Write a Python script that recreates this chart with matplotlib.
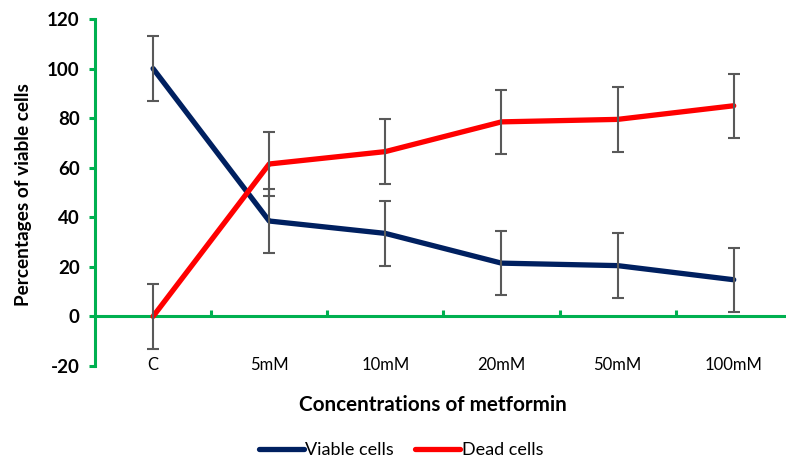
import matplotlib
matplotlib.use("Agg")
import matplotlib.pyplot as plt
import numpy as np

categories = ["C", "5mM", "10mM", "20mM", "50mM", "100mM"]
viable = [100, 38.5, 33.5, 21.5, 20.5, 14.8]
viable_err = [13, 13, 13, 13, 13, 13]
dead = [0, 61.5, 66.5, 78.5, 79.5, 85]
dead_err = [13, 13, 13, 13, 13, 13]

GREEN = "#00B050"
NAVY = "#002060"
RED = "#FF0000"
GREY = "#595959"

plt.rcParams.update({
    "font.family": ["Lato", "DejaVu Sans"],
    "axes.unicode_minus": False,
})

fig = plt.figure(figsize=(7.86, 4.59), dpi=100)
ax = fig.add_axes([95 / 786, 1 - 366 / 459, 1 - 95 / 786, (366 - 19) / 459])

x = np.arange(len(categories))
ax.plot(x, viable, color=NAVY, lw=3.8, solid_capstyle="round", label="Viable cells", zorder=3)
ax.plot(x, dead, color=RED, lw=3.8, solid_capstyle="round", label="Dead cells", zorder=3)
ax.errorbar(x, viable, yerr=viable_err, fmt="none", ecolor=GREY, elinewidth=1.5,
            capsize=4, capthick=1.5, zorder=4)
ax.errorbar(x, dead, yerr=dead_err, fmt="none", ecolor=GREY, elinewidth=1.5,
            capsize=4, capthick=1.5, zorder=4)

ax.set_xlim(-0.5, 5.45)
ax.set_ylim(-20, 120)
ax.set_yticks(np.arange(-20, 121, 20))

for s in ["top", "right"]:
    ax.spines[s].set_visible(False)
ax.spines["left"].set_color(GREEN)
ax.spines["left"].set_linewidth(2.2)
ax.spines["bottom"].set_position(("data", 0))
ax.spines["bottom"].set_color(GREEN)
ax.spines["bottom"].set_linewidth(2.2)

ax.tick_params(axis="y", colors=GREEN, direction="out", length=4, width=2.2,
               labelcolor="black", labelsize=13.5, pad=7)
for lbl in ax.get_yticklabels():
    lbl.set_fontweight("bold")

ax.set_xticks(x)
ax.set_xticklabels(categories, fontsize=12)
ax.tick_params(axis="x", which="major", length=0, pad=29)
ax.set_xticks(x[:-1] + 0.5, minor=True)
ax.tick_params(axis="x", which="minor", direction="in", length=4, width=2.2, colors=GREEN)

ax.set_ylabel("Percentages of viable cells", fontsize=13.7, fontweight="bold")
ax.yaxis.set_label_coords(-0.091, 0.495)
fig.text(433 / 786, 1 - 405 / 459, "Concentrations of metformin", fontsize=14.9,
         fontweight="bold", ha="center", va="center")

fig.legend(loc="center", bbox_to_anchor=(401 / 786, 1 - 450 / 459), ncol=2, frameon=False,
           fontsize=13, handlelength=2.5, handletextpad=0.1, columnspacing=1.15)

fig.savefig("out.png", dpi=100)
